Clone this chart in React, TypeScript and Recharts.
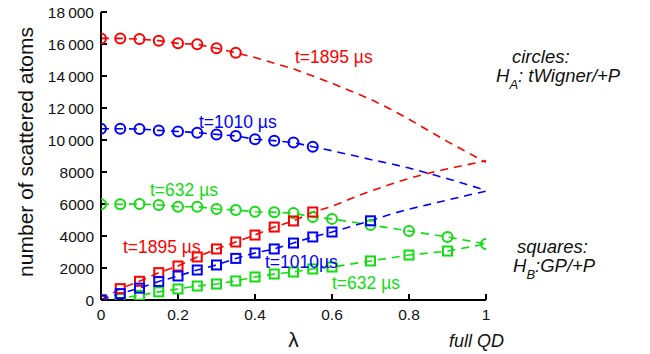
import {
  ComposedChart,
  Line,
  Scatter,
  XAxis,
  YAxis,
} from "recharts";

// lambda grid used by the simulations
const lambdaAll = [0, 0.05, 0.1, 0.15, 0.2, 0.25, 0.3, 0.35, 0.4, 0.45, 0.5, 0.55, 0.6, 0.65, 0.7, 0.75, 0.8, 0.85, 0.9, 0.95, 1];
const lambdaGreen = [0, 0.05, 0.1, 0.15, 0.2, 0.25, 0.3, 0.35, 0.4, 0.45, 0.5, 0.55, 0.6, 0.7, 0.8, 0.9, 1];
const lambdaBlueSq = [0, 0.05, 0.1, 0.15, 0.2, 0.25, 0.3, 0.35, 0.4, 0.45, 0.5, 0.55, 0.6, 0.7];
const lambdaBlueSqFit = [0.75, 0.8, 0.85, 0.9, 0.95, 1];

// circles: H_A (tWigner/+P)
const redCircles = [16350, 16350, 16310, 16210, 16040, 15980, 15730, 15460];
const redCircleFit = [15150, 14800, 14450, 14000, 13550, 13050, 12550, 11950, 11300, 10600, 9900, 9250, 8600];
const blueCircles = [10700, 10700, 10690, 10600, 10530, 10460, 10350, 10250, 10050, 9960, 9840, 9580];
const blueCircleFit = [9330, 9060, 8780, 8530, 8250, 7920, 7580, 7220, 6850];
const greenCircles = [5980, 5980, 6000, 5940, 5830, 5830, 5690, 5625, 5520, 5480, 5430, 5180, 5070, 4690, 4310, 3940, 3500];

// squares: H_B (GP/+P)
const redSquares = [0, 710, 1170, 1710, 2125, 2690, 3190, 3625, 4060, 4560, 4940, 5500];
const redSquareFit = [5850, 6350, 6800, 7220, 7600, 7920, 8200, 8450, 8700];
const blueSquares = [0, 400, 740, 1160, 1500, 1875, 2190, 2600, 2940, 3190, 3560, 3940, 4250, 4950];
const blueSquareFit = [5350, 5680, 5960, 6250, 6530, 6800];
const greenSquares = [0, 100, 290, 510, 690, 875, 1000, 1190, 1440, 1625, 1750, 1940, 2060, 2440, 2810, 3060, 3500];

const xTicks = [0, 0.2, 0.4, 0.6, 0.8, 1];
const yTicks = [0, 2000, 4000, 6000, 8000, 10000, 12000, 14000, 16000, 18000];

const RED = "#ff0000";
const BLUE = "#0000ff";
const GREEN = "#11dd11";
const FONT = "'Liberation Sans', Arial, Helvetica, sans-serif";

const pts = (xs: number[], ys: number[]) => ys.map((y, i) => ({ x: xs[i], y }));

const redCircleLine = pts(lambdaAll, [...redCircles, ...redCircleFit]);
const blueCircleLine = pts(lambdaAll, [...blueCircles, ...blueCircleFit]);
const greenCircleLine = pts(lambdaGreen, greenCircles);
const redSquareLine = pts(lambdaAll, [...redSquares, ...redSquareFit]);
const blueSquareLine = pts([...lambdaBlueSq, ...lambdaBlueSqFit], [...blueSquares, ...blueSquareFit]);
const greenSquareLine = pts(lambdaGreen, greenSquares);

const circleShape = (color: string) => (p: any) => (
  <circle cx={p.cx} cy={p.cy} r={5} fill="none" stroke={color} strokeWidth={2} />
);
const squareShape = (color: string) => (p: any) => (
  <rect x={p.cx - 4.5} y={p.cy - 4.5} width={9} height={9} fill="none" stroke={color} strokeWidth={2} />
);

const fmtY = (v: number) => (v >= 10000 ? `${Math.floor(v / 1000)}\u2009000` : String(v));

export default function App() {
  const dash = "8 6";
  const tickStyle = { fill: "#111", fontSize: 15.5, fontFamily: FONT };
  return (
    <div style={{ position: "absolute", left: 0, top: 0, width: 650, height: 354, background: "#fff" }}>
      <ComposedChart width={650} height={354} margin={{ top: 12, right: 164, left: 0, bottom: 0 }}>
        <XAxis
          dataKey="x"
          type="number"
          domain={[0, 1]}
          ticks={xTicks}
          height={54}
          tickSize={-6}
          tickMargin={15}
          stroke="#000"
          strokeWidth={2}
          tick={tickStyle}
          allowDataOverflow
        />
        <YAxis
          dataKey="y"
          type="number"
          domain={[0, 18000]}
          ticks={yTicks}
          width={101}
          tickSize={-6}
          tickMargin={13}
          stroke="#000"
          strokeWidth={2}
          tick={tickStyle}
          tickFormatter={fmtY}
          allowDataOverflow
        />
        <YAxis
          yAxisId="right"
          orientation="right"
          type="number"
          domain={[0, 18000]}
          ticks={yTicks}
          width={0}
          tickSize={-6}
          tick={false}
          stroke="#000"
          strokeWidth={2}
        />

        <Line data={redCircleLine} dataKey="y" stroke={RED} strokeWidth={1.6} strokeDasharray={dash} dot={false} isAnimationActive={false} />
        <Line data={blueCircleLine} dataKey="y" stroke={BLUE} strokeWidth={1.6} strokeDasharray={dash} dot={false} isAnimationActive={false} />
        <Line data={greenCircleLine} dataKey="y" stroke={GREEN} strokeWidth={1.6} strokeDasharray={dash} dot={false} isAnimationActive={false} />
        <Line data={redSquareLine} dataKey="y" stroke={RED} strokeWidth={1.6} strokeDasharray={dash} dot={false} isAnimationActive={false} />
        <Line data={blueSquareLine} dataKey="y" stroke={BLUE} strokeWidth={1.6} strokeDasharray={dash} dot={false} isAnimationActive={false} />
        <Line data={greenSquareLine} dataKey="y" stroke={GREEN} strokeWidth={1.6} strokeDasharray={dash} dot={false} isAnimationActive={false} />

        <Scatter data={pts(lambdaAll, redCircles)} shape={circleShape(RED)} isAnimationActive={false} />
        <Scatter data={pts(lambdaAll, blueCircles)} shape={circleShape(BLUE)} isAnimationActive={false} />
        <Scatter data={pts(lambdaGreen, greenCircles)} shape={circleShape(GREEN)} isAnimationActive={false} />
        <Scatter data={pts(lambdaGreen, greenSquares.slice(0, 16))} shape={squareShape(GREEN)} isAnimationActive={false} />
        <Scatter data={pts(lambdaAll, redSquares)} shape={squareShape(RED)} isAnimationActive={false} />
        <Scatter data={pts(lambdaBlueSq, blueSquares)} shape={squareShape(BLUE)} isAnimationActive={false} />
      </ComposedChart>

      <svg width={650} height={354} style={{ position: "absolute", left: 0, top: 0, pointerEvents: "none" }} fontFamily={FONT}>
        <text x={33} y={152} transform="rotate(-90 33 152)" textAnchor="middle" fontSize={21} fill="#111">
          number of scattered atoms
        </text>
        <text x={293.5} y={347} textAnchor="middle" fontSize={21} fill="#111">λ</text>
        <text x={449} y={347} fontSize={18} fontStyle="italic" fill="#111">full QD</text>

        <text x={295} y={63} fontSize={17.5} fill={RED}>t=1895 µs</text>
        <text x={199} y={128} fontSize={17.5} fill={BLUE}>t=1010 µs</text>
        <text x={150} y={196} fontSize={17.5} fill={GREEN}>t=632 µs</text>
        <text x={123} y={253} fontSize={17.5} fill={RED}>t=1895 µs</text>
        <text x={265} y={268} fontSize={17.5} fill={BLUE}>t=1010µs</text>
        <text x={332} y={289} fontSize={17.5} fill={GREEN}>t=632 µs</text>

        <g fontStyle="italic" fill="#111" fontSize={18.5}>
          <text x={512} y={63}>circles:</text>
          <text x={496} y={82}>
            H<tspan fontSize={13} dy={7}>A</tspan><tspan dy={-7}>: tWigner/+P</tspan>
          </text>
          <text x={517} y={253}>squares:</text>
          <text x={513} y={272}>
            H<tspan fontSize={13} dy={7}>B</tspan><tspan dy={-7}>:GP/+P</tspan>
          </text>
        </g>
      </svg>
    </div>
  );
}
